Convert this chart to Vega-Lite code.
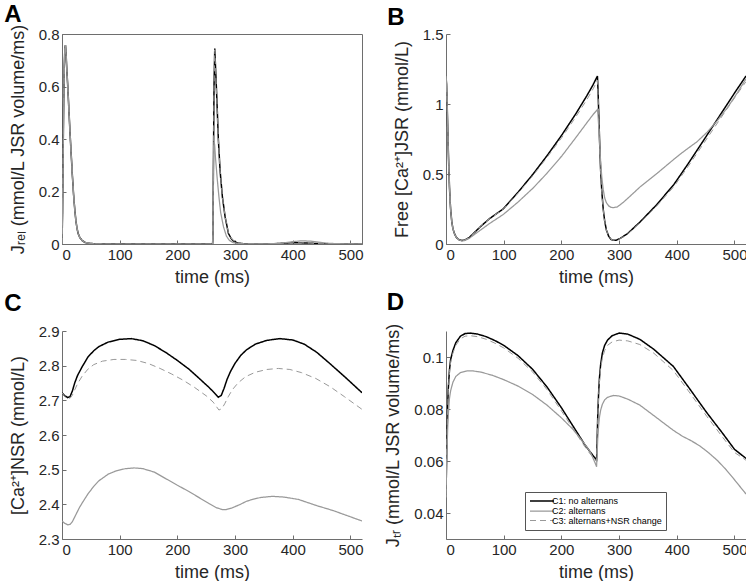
{
  "$schema": "https://vega.github.io/schema/vega-lite/v6.json",
  "padding": {"left": 3, "top": 2, "right": 0, "bottom": 0},
  "background": "white",
  "columns": 2,
  "spacing": {"row": 87, "column": 84},
  "bounds": "flush",
  "resolve": {"legend": {"color": "independent", "strokeDash": "independent", "strokeWidth": "independent"}},
  "config": {
    "font": "Liberation Sans",
    "view": {"stroke": null},
    "axis": {
      "grid": false,
      "domainColor": "#6e6e6e",
      "tickColor": "#6e6e6e",
      "labelColor": "#262626",
      "titleColor": "#262626",
      "labelFont": "Liberation Sans",
      "titleFont": "Liberation Sans",
      "labelFontSize": 15,
      "titleFontSize": 18,
      "titleFontWeight": "normal",
      "tickSize": -4,
      "labelPadding": 7
    },
    "axisX": {"titlePadding": 6},
    "axisY": {"titlePadding": 11},
    "title": {"fontSize": 24, "fontWeight": "bold", "font": "Liberation Sans", "color": "#000000", "anchor": "start", "frame": "bounds"},
    "legend": {"orient": "none", "legendX": 79, "legendY": 161, "title": null, "symbolType": "M-3,0H3", "symbolSize": 64, "symbolOffset": 8, "labelFontSize": 9, "labelFont": "Liberation Sans", "labelColor": "#000000", "strokeColor": "#555555", "fillColor": "white", "padding": 4, "rowPadding": -2, "labelOffset": 5}
  },
  "datasets": {
    "A": [
      {"t":0,"v":0,"s":"C1"},{"t":1,"v":0.12,"s":"C1"},{"t":2,"v":0.35,"s":"C1"},{"t":3,"v":0.55,"s":"C1"},{"t":4,"v":0.68,"s":"C1"},{"t":5,"v":0.745,"s":"C1"},{"t":6,"v":0.758,"s":"C1"},{"t":7,"v":0.73,"s":"C1"},{"t":8,"v":0.68,"s":"C1"},{"t":10,"v":0.6,"s":"C1"},{"t":12,"v":0.51,"s":"C1"},{"t":14,"v":0.42,"s":"C1"},{"t":16,"v":0.34,"s":"C1"},{"t":18,"v":0.26,"s":"C1"},{"t":20,"v":0.19,"s":"C1"},{"t":22,"v":0.135,"s":"C1"},{"t":24,"v":0.09,"s":"C1"},{"t":26,"v":0.06,"s":"C1"},{"t":28,"v":0.04,"s":"C1"},{"t":31,"v":0.024,"s":"C1"},{"t":35,"v":0.013,"s":"C1"},{"t":40,"v":0.006,"s":"C1"},{"t":46,"v":0.003,"s":"C1"},{"t":55,"v":0.001,"s":"C1"},{"t":70,"v":0,"s":"C1"},{"t":150,"v":0,"s":"C1"},{"t":261,"v":0,"s":"C1"},
      {"t":261.5,"v":0.02,"s":"C1"},{"t":262.5,"v":0.3,"s":"C1"},{"t":263.5,"v":0.6,"s":"C1"},{"t":264.8,"v":0.745,"s":"C1"},{"t":266,"v":0.68,"s":"C1"},{"t":268.3,"v":0.56,"s":"C1"},{"t":271,"v":0.4,"s":"C1"},{"t":274,"v":0.28,"s":"C1"},{"t":278,"v":0.18,"s":"C1"},{"t":282.7,"v":0.104,"s":"C1"},{"t":288.5,"v":0.04,"s":"C1"},{"t":293,"v":0.022,"s":"C1"},{"t":297,"v":0.012,"s":"C1"},{"t":303,"v":0.005,"s":"C1"},{"t":310,"v":0.002,"s":"C1"},{"t":320,"v":0.0005,"s":"C1"},{"t":350,"v":0,"s":"C1"},{"t":370,"v":0.001,"s":"C1"},{"t":390,"v":0.004,"s":"C1"},{"t":405,"v":0.005,"s":"C1"},{"t":420,"v":0.004,"s":"C1"},{"t":440,"v":0.002,"s":"C1"},{"t":460,"v":0.0005,"s":"C1"},{"t":480,"v":0,"s":"C1"},{"t":520,"v":0,"s":"C1"},
      {"t":0,"v":0,"s":"C3"},{"t":1,"v":0.12,"s":"C3"},{"t":2,"v":0.35,"s":"C3"},{"t":3,"v":0.55,"s":"C3"},{"t":4,"v":0.68,"s":"C3"},{"t":5,"v":0.745,"s":"C3"},{"t":6,"v":0.758,"s":"C3"},{"t":7,"v":0.73,"s":"C3"},{"t":8,"v":0.68,"s":"C3"},{"t":10,"v":0.6,"s":"C3"},{"t":12,"v":0.51,"s":"C3"},{"t":14,"v":0.42,"s":"C3"},{"t":16,"v":0.34,"s":"C3"},{"t":18,"v":0.26,"s":"C3"},{"t":20,"v":0.19,"s":"C3"},{"t":22,"v":0.135,"s":"C3"},{"t":24,"v":0.09,"s":"C3"},{"t":26,"v":0.06,"s":"C3"},{"t":28,"v":0.04,"s":"C3"},{"t":31,"v":0.024,"s":"C3"},{"t":35,"v":0.013,"s":"C3"},{"t":40,"v":0.006,"s":"C3"},{"t":46,"v":0.003,"s":"C3"},{"t":55,"v":0.001,"s":"C3"},{"t":70,"v":0,"s":"C3"},{"t":150,"v":0,"s":"C3"},{"t":261,"v":0,"s":"C3"},
      {"t":261.5,"v":0.02,"s":"C3"},{"t":262.5,"v":0.3,"s":"C3"},{"t":263.5,"v":0.59,"s":"C3"},{"t":264.8,"v":0.74,"s":"C3"},{"t":266,"v":0.675,"s":"C3"},{"t":268.3,"v":0.555,"s":"C3"},{"t":271,"v":0.4,"s":"C3"},{"t":274,"v":0.28,"s":"C3"},{"t":278,"v":0.18,"s":"C3"},{"t":282.7,"v":0.105,"s":"C3"},{"t":288.5,"v":0.042,"s":"C3"},{"t":293,"v":0.023,"s":"C3"},{"t":297,"v":0.013,"s":"C3"},{"t":303,"v":0.006,"s":"C3"},{"t":310,"v":0.002,"s":"C3"},{"t":320,"v":0.0005,"s":"C3"},{"t":350,"v":0,"s":"C3"},{"t":370,"v":0.001,"s":"C3"},{"t":390,"v":0.004,"s":"C3"},{"t":405,"v":0.005,"s":"C3"},{"t":420,"v":0.004,"s":"C3"},{"t":440,"v":0.002,"s":"C3"},{"t":460,"v":0.0005,"s":"C3"},{"t":480,"v":0,"s":"C3"},{"t":520,"v":0,"s":"C3"},
      {"t":0,"v":0,"s":"C2"},{"t":1,"v":0.12,"s":"C2"},{"t":2,"v":0.35,"s":"C2"},{"t":3,"v":0.55,"s":"C2"},{"t":4,"v":0.68,"s":"C2"},{"t":5,"v":0.745,"s":"C2"},{"t":6,"v":0.758,"s":"C2"},{"t":7,"v":0.73,"s":"C2"},{"t":8,"v":0.68,"s":"C2"},{"t":10,"v":0.6,"s":"C2"},{"t":12,"v":0.51,"s":"C2"},{"t":14,"v":0.42,"s":"C2"},{"t":16,"v":0.34,"s":"C2"},{"t":18,"v":0.26,"s":"C2"},{"t":20,"v":0.19,"s":"C2"},{"t":22,"v":0.135,"s":"C2"},{"t":24,"v":0.09,"s":"C2"},{"t":26,"v":0.06,"s":"C2"},{"t":28,"v":0.04,"s":"C2"},{"t":31,"v":0.024,"s":"C2"},{"t":35,"v":0.013,"s":"C2"},{"t":40,"v":0.006,"s":"C2"},{"t":46,"v":0.003,"s":"C2"},{"t":55,"v":0.001,"s":"C2"},{"t":70,"v":0,"s":"C2"},{"t":150,"v":0,"s":"C2"},{"t":261,"v":0,"s":"C2"},
      {"t":261.5,"v":0.03,"s":"C2"},{"t":262.2,"v":0.25,"s":"C2"},{"t":263.2,"v":0.39,"s":"C2"},{"t":264.5,"v":0.38,"s":"C2"},{"t":266,"v":0.33,"s":"C2"},{"t":269,"v":0.25,"s":"C2"},{"t":272,"v":0.18,"s":"C2"},{"t":275,"v":0.12,"s":"C2"},{"t":280,"v":0.065,"s":"C2"},{"t":285,"v":0.03,"s":"C2"},{"t":290,"v":0.014,"s":"C2"},{"t":297,"v":0.005,"s":"C2"},{"t":310,"v":0.001,"s":"C2"},{"t":350,"v":0,"s":"C2"},{"t":380,"v":0.003,"s":"C2"},{"t":400,"v":0.009,"s":"C2"},{"t":415,"v":0.012,"s":"C2"},{"t":430,"v":0.011,"s":"C2"},{"t":445,"v":0.007,"s":"C2"},{"t":460,"v":0.003,"s":"C2"},{"t":480,"v":0.001,"s":"C2"},{"t":520,"v":0,"s":"C2"}
    ],
    "B": [
      {"t":0,"v":1.2,"s":"C1"},{"t":1,"v":1.14,"s":"C1"},{"t":2,"v":1.0,"s":"C1"},{"t":3,"v":0.83,"s":"C1"},{"t":4,"v":0.67,"s":"C1"},{"t":5,"v":0.53,"s":"C1"},{"t":6,"v":0.41,"s":"C1"},{"t":7,"v":0.32,"s":"C1"},{"t":8,"v":0.25,"s":"C1"},{"t":10,"v":0.16,"s":"C1"},{"t":12,"v":0.11,"s":"C1"},{"t":15,"v":0.07,"s":"C1"},{"t":18,"v":0.047,"s":"C1"},{"t":22,"v":0.032,"s":"C1"},
      {"t":27,"v":0.025,"s":"C1"},{"t":32,"v":0.027,"s":"C1"},{"t":40,"v":0.045,"s":"C1"},{"t":50,"v":0.085,"s":"C1"},{"t":60,"v":0.125,"s":"C1"},{"t":75,"v":0.18,"s":"C1"},{"t":99,"v":0.25,"s":"C1"},{"t":125,"v":0.37,"s":"C1"},{"t":151,"v":0.5,"s":"C1"},{"t":175,"v":0.63,"s":"C1"},{"t":201,"v":0.78,"s":"C1"},{"t":225,"v":0.93,"s":"C1"},{"t":244,"v":1.058,"s":"C1"},{"t":255,"v":1.138,"s":"C1"},{"t":262.5,"v":1.2,"s":"C1"},{"t":263.5,"v":1.1,"s":"C1"},{"t":265,"v":0.9,"s":"C1"},{"t":266.5,"v":0.7,"s":"C1"},{"t":268,"v":0.53,"s":"C1"},{"t":270,"v":0.38,"s":"C1"},{"t":272.5,"v":0.25,"s":"C1"},{"t":275,"v":0.165,"s":"C1"},{"t":278,"v":0.1,"s":"C1"},{"t":282,"v":0.055,"s":"C1"},{"t":286,"v":0.033,"s":"C1"},{"t":290,"v":0.026,"s":"C1"},{"t":295,"v":0.027,"s":"C1"},{"t":302,"v":0.04,"s":"C1"},{"t":315,"v":0.075,"s":"C1"},{"t":337,"v":0.16,"s":"C1"},{"t":365,"v":0.28,"s":"C1"},{"t":395,"v":0.425,"s":"C1"},{"t":420,"v":0.575,"s":"C1"},{"t":448,"v":0.75,"s":"C1"},{"t":475,"v":0.92,"s":"C1"},{"t":502,"v":1.09,"s":"C1"},{"t":520,"v":1.2,"s":"C1"},
      {"t":0,"v":1.2,"s":"C3"},{"t":1,"v":1.14,"s":"C3"},{"t":2,"v":1.0,"s":"C3"},{"t":3,"v":0.83,"s":"C3"},{"t":4,"v":0.67,"s":"C3"},{"t":5,"v":0.53,"s":"C3"},{"t":6,"v":0.41,"s":"C3"},{"t":7,"v":0.32,"s":"C3"},{"t":8,"v":0.25,"s":"C3"},{"t":10,"v":0.16,"s":"C3"},{"t":12,"v":0.11,"s":"C3"},{"t":15,"v":0.07,"s":"C3"},{"t":18,"v":0.047,"s":"C3"},{"t":22,"v":0.032,"s":"C3"},
      {"t":27,"v":0.025,"s":"C3"},{"t":32,"v":0.027,"s":"C3"},{"t":40,"v":0.045,"s":"C3"},{"t":50,"v":0.085,"s":"C3"},{"t":60,"v":0.125,"s":"C3"},{"t":75,"v":0.18,"s":"C3"},{"t":99,"v":0.248,"s":"C3"},{"t":125,"v":0.364,"s":"C3"},{"t":151,"v":0.49,"s":"C3"},{"t":175,"v":0.618,"s":"C3"},{"t":201,"v":0.762,"s":"C3"},{"t":225,"v":0.908,"s":"C3"},{"t":244,"v":1.03,"s":"C3"},{"t":255,"v":1.108,"s":"C3"},{"t":262.5,"v":1.17,"s":"C3"},{"t":263.5,"v":1.08,"s":"C3"},{"t":265,"v":0.88,"s":"C3"},{"t":266.5,"v":0.69,"s":"C3"},{"t":268,"v":0.52,"s":"C3"},{"t":270,"v":0.37,"s":"C3"},{"t":272.5,"v":0.245,"s":"C3"},{"t":275,"v":0.162,"s":"C3"},{"t":278,"v":0.1,"s":"C3"},{"t":282,"v":0.055,"s":"C3"},{"t":286,"v":0.033,"s":"C3"},{"t":290,"v":0.026,"s":"C3"},{"t":295,"v":0.027,"s":"C3"},{"t":302,"v":0.039,"s":"C3"},{"t":315,"v":0.072,"s":"C3"},{"t":337,"v":0.155,"s":"C3"},{"t":365,"v":0.27,"s":"C3"},{"t":395,"v":0.41,"s":"C3"},{"t":420,"v":0.556,"s":"C3"},{"t":448,"v":0.727,"s":"C3"},{"t":475,"v":0.892,"s":"C3"},{"t":502,"v":1.055,"s":"C3"},{"t":520,"v":1.16,"s":"C3"},
      {"t":0,"v":1.2,"s":"C2"},{"t":1,"v":1.14,"s":"C2"},{"t":2,"v":1.0,"s":"C2"},{"t":3,"v":0.83,"s":"C2"},{"t":4,"v":0.67,"s":"C2"},{"t":5,"v":0.53,"s":"C2"},{"t":6,"v":0.41,"s":"C2"},{"t":7,"v":0.32,"s":"C2"},{"t":8,"v":0.25,"s":"C2"},{"t":10,"v":0.16,"s":"C2"},{"t":12,"v":0.11,"s":"C2"},{"t":15,"v":0.07,"s":"C2"},{"t":18,"v":0.047,"s":"C2"},{"t":22,"v":0.032,"s":"C2"},
      {"t":27,"v":0.022,"s":"C2"},{"t":32,"v":0.024,"s":"C2"},{"t":40,"v":0.04,"s":"C2"},{"t":50,"v":0.07,"s":"C2"},{"t":60,"v":0.1,"s":"C2"},{"t":75,"v":0.145,"s":"C2"},{"t":99,"v":0.21,"s":"C2"},{"t":125,"v":0.3,"s":"C2"},{"t":151,"v":0.4,"s":"C2"},{"t":175,"v":0.505,"s":"C2"},{"t":201,"v":0.63,"s":"C2"},{"t":225,"v":0.76,"s":"C2"},{"t":244,"v":0.865,"s":"C2"},{"t":255,"v":0.925,"s":"C2"},{"t":262.5,"v":0.96,"s":"C2"},{"t":263.5,"v":0.92,"s":"C2"},{"t":265,"v":0.82,"s":"C2"},{"t":266.5,"v":0.7,"s":"C2"},{"t":268,"v":0.59,"s":"C2"},{"t":270,"v":0.48,"s":"C2"},{"t":272.5,"v":0.39,"s":"C2"},{"t":275,"v":0.33,"s":"C2"},{"t":278,"v":0.295,"s":"C2"},{"t":282,"v":0.272,"s":"C2"},{"t":286,"v":0.262,"s":"C2"},{"t":290,"v":0.26,"s":"C2"},{"t":297,"v":0.265,"s":"C2"},{"t":308,"v":0.3,"s":"C2"},{"t":320,"v":0.345,"s":"C2"},{"t":337,"v":0.41,"s":"C2"},{"t":366,"v":0.505,"s":"C2"},{"t":395,"v":0.605,"s":"C2"},{"t":407,"v":0.645,"s":"C2"},{"t":419,"v":0.682,"s":"C2"},{"t":435,"v":0.73,"s":"C2"},{"t":453,"v":0.8,"s":"C2"},{"t":470,"v":0.88,"s":"C2"},{"t":488,"v":0.975,"s":"C2"},{"t":505,"v":1.08,"s":"C2"},{"t":520,"v":1.18,"s":"C2"}
    ],
    "C": [
      {"t":0,"v":2.722,"s":"C1"},{"t":5,"v":2.713,"s":"C1"},{"t":10,"v":2.708,"s":"C1"},{"t":14,"v":2.711,"s":"C1"},{"t":18,"v":2.727,"s":"C1"},{"t":22,"v":2.75,"s":"C1"},{"t":27,"v":2.772,"s":"C1"},{"t":35,"v":2.797,"s":"C1"},{"t":45,"v":2.825,"s":"C1"},{"t":55,"v":2.843,"s":"C1"},{"t":64,"v":2.855,"s":"C1"},{"t":80,"v":2.868,"s":"C1"},{"t":100,"v":2.876,"s":"C1"},{"t":120,"v":2.878,"s":"C1"},{"t":140,"v":2.872,"s":"C1"},{"t":160,"v":2.858,"s":"C1"},{"t":180,"v":2.838,"s":"C1"},{"t":200,"v":2.815,"s":"C1"},{"t":220,"v":2.79,"s":"C1"},{"t":238,"v":2.763,"s":"C1"},{"t":255,"v":2.737,"s":"C1"},{"t":265,"v":2.72,"s":"C1"},{"t":271,"v":2.709,"s":"C1"},{"t":276,"v":2.714,"s":"C1"},{"t":281,"v":2.735,"s":"C1"},{"t":286,"v":2.76,"s":"C1"},{"t":292,"v":2.783,"s":"C1"},{"t":300,"v":2.807,"s":"C1"},{"t":310,"v":2.83,"s":"C1"},{"t":320,"v":2.846,"s":"C1"},{"t":335,"v":2.862,"s":"C1"},{"t":355,"v":2.873,"s":"C1"},{"t":378,"v":2.878,"s":"C1"},{"t":400,"v":2.874,"s":"C1"},{"t":420,"v":2.862,"s":"C1"},{"t":442,"v":2.838,"s":"C1"},{"t":465,"v":2.805,"s":"C1"},{"t":490,"v":2.768,"s":"C1"},{"t":520,"v":2.722,"s":"C1"},
      {"t":0,"v":2.722,"s":"C3"},{"t":5,"v":2.71,"s":"C3"},{"t":10,"v":2.705,"s":"C3"},{"t":14,"v":2.706,"s":"C3"},{"t":18,"v":2.715,"s":"C3"},{"t":22,"v":2.73,"s":"C3"},{"t":27,"v":2.748,"s":"C3"},{"t":35,"v":2.77,"s":"C3"},{"t":45,"v":2.79,"s":"C3"},{"t":55,"v":2.803,"s":"C3"},{"t":70,"v":2.813,"s":"C3"},{"t":90,"v":2.818,"s":"C3"},{"t":110,"v":2.818,"s":"C3"},{"t":130,"v":2.815,"s":"C3"},{"t":150,"v":2.806,"s":"C3"},{"t":170,"v":2.792,"s":"C3"},{"t":190,"v":2.776,"s":"C3"},{"t":210,"v":2.758,"s":"C3"},{"t":230,"v":2.737,"s":"C3"},{"t":250,"v":2.713,"s":"C3"},{"t":262,"v":2.695,"s":"C3"},{"t":272,"v":2.672,"s":"C3"},{"t":277,"v":2.676,"s":"C3"},{"t":282,"v":2.69,"s":"C3"},{"t":288,"v":2.71,"s":"C3"},{"t":295,"v":2.73,"s":"C3"},{"t":305,"v":2.75,"s":"C3"},{"t":318,"v":2.768,"s":"C3"},{"t":335,"v":2.781,"s":"C3"},{"t":355,"v":2.789,"s":"C3"},{"t":375,"v":2.792,"s":"C3"},{"t":395,"v":2.789,"s":"C3"},{"t":415,"v":2.78,"s":"C3"},{"t":440,"v":2.763,"s":"C3"},{"t":465,"v":2.739,"s":"C3"},{"t":490,"v":2.71,"s":"C3"},{"t":520,"v":2.674,"s":"C3"},
      {"t":0,"v":2.352,"s":"C2"},{"t":5,"v":2.345,"s":"C2"},{"t":10,"v":2.341,"s":"C2"},{"t":14,"v":2.342,"s":"C2"},{"t":18,"v":2.35,"s":"C2"},{"t":24,"v":2.37,"s":"C2"},{"t":30,"v":2.39,"s":"C2"},{"t":35,"v":2.404,"s":"C2"},{"t":45,"v":2.43,"s":"C2"},{"t":55,"v":2.452,"s":"C2"},{"t":64,"v":2.468,"s":"C2"},{"t":80,"v":2.487,"s":"C2"},{"t":93,"v":2.496,"s":"C2"},{"t":110,"v":2.503,"s":"C2"},{"t":125,"v":2.505,"s":"C2"},{"t":140,"v":2.503,"s":"C2"},{"t":160,"v":2.493,"s":"C2"},{"t":180,"v":2.474,"s":"C2"},{"t":200,"v":2.455,"s":"C2"},{"t":220,"v":2.437,"s":"C2"},{"t":239,"v":2.418,"s":"C2"},{"t":255,"v":2.402,"s":"C2"},{"t":268,"v":2.39,"s":"C2"},{"t":278,"v":2.385,"s":"C2"},{"t":285,"v":2.385,"s":"C2"},{"t":295,"v":2.39,"s":"C2"},{"t":308,"v":2.399,"s":"C2"},{"t":320,"v":2.409,"s":"C2"},{"t":332,"v":2.415,"s":"C2"},{"t":345,"v":2.42,"s":"C2"},{"t":365,"v":2.423,"s":"C2"},{"t":385,"v":2.421,"s":"C2"},{"t":410,"v":2.414,"s":"C2"},{"t":442,"v":2.396,"s":"C2"},{"t":470,"v":2.382,"s":"C2"},{"t":495,"v":2.367,"s":"C2"},{"t":520,"v":2.352,"s":"C2"}
    ],
    "D": [
      {"t":0,"v":0.047,"s":"C1"},{"t":1,"v":0.06,"s":"C1"},{"t":2,"v":0.072,"s":"C1"},{"t":3,"v":0.082,"s":"C1"},{"t":4,"v":0.088,"s":"C1"},{"t":6,"v":0.095,"s":"C1"},{"t":8,"v":0.099,"s":"C1"},{"t":12,"v":0.1025,"s":"C1"},{"t":17,"v":0.1055,"s":"C1"},{"t":25,"v":0.108,"s":"C1"},{"t":33,"v":0.109,"s":"C1"},{"t":42,"v":0.1092,"s":"C1"},{"t":55,"v":0.1088,"s":"C1"},{"t":70,"v":0.1078,"s":"C1"},{"t":85,"v":0.1063,"s":"C1"},{"t":100,"v":0.1045,"s":"C1"},{"t":125,"v":0.1005,"s":"C1"},{"t":150,"v":0.0953,"s":"C1"},{"t":175,"v":0.0885,"s":"C1"},{"t":200,"v":0.0805,"s":"C1"},{"t":220,"v":0.0735,"s":"C1"},{"t":240,"v":0.0665,"s":"C1"},{"t":250,"v":0.0635,"s":"C1"},{"t":258,"v":0.0612,"s":"C1"},{"t":261,"v":0.0605,"s":"C1"},{"t":262,"v":0.068,"s":"C1"},{"t":263,"v":0.077,"s":"C1"},{"t":264.5,"v":0.086,"s":"C1"},{"t":266,"v":0.092,"s":"C1"},{"t":268,"v":0.097,"s":"C1"},{"t":271,"v":0.1015,"s":"C1"},{"t":275,"v":0.1045,"s":"C1"},{"t":280,"v":0.1065,"s":"C1"},{"t":288,"v":0.1082,"s":"C1"},{"t":300,"v":0.1092,"s":"C1"},{"t":315,"v":0.1088,"s":"C1"},{"t":336,"v":0.1068,"s":"C1"},{"t":360,"v":0.103,"s":"C1"},{"t":394,"v":0.0964,"s":"C1"},{"t":420,"v":0.0885,"s":"C1"},{"t":452,"v":0.0786,"s":"C1"},{"t":480,"v":0.0705,"s":"C1"},{"t":500,"v":0.0645,"s":"C1"},{"t":520,"v":0.061,"s":"C1"},
      {"t":0,"v":0.047,"s":"C3"},{"t":1,"v":0.06,"s":"C3"},{"t":2,"v":0.072,"s":"C3"},{"t":3,"v":0.081,"s":"C3"},{"t":4,"v":0.087,"s":"C3"},{"t":6,"v":0.094,"s":"C3"},{"t":8,"v":0.098,"s":"C3"},{"t":12,"v":0.1015,"s":"C3"},{"t":17,"v":0.1045,"s":"C3"},{"t":25,"v":0.107,"s":"C3"},{"t":33,"v":0.108,"s":"C3"},{"t":42,"v":0.1082,"s":"C3"},{"t":55,"v":0.1078,"s":"C3"},{"t":70,"v":0.1068,"s":"C3"},{"t":85,"v":0.1053,"s":"C3"},{"t":100,"v":0.1035,"s":"C3"},{"t":125,"v":0.0995,"s":"C3"},{"t":150,"v":0.0943,"s":"C3"},{"t":175,"v":0.0875,"s":"C3"},{"t":200,"v":0.0793,"s":"C3"},{"t":220,"v":0.0725,"s":"C3"},{"t":240,"v":0.0657,"s":"C3"},{"t":250,"v":0.0627,"s":"C3"},{"t":258,"v":0.0605,"s":"C3"},{"t":261,"v":0.0598,"s":"C3"},{"t":262,"v":0.067,"s":"C3"},{"t":263,"v":0.076,"s":"C3"},{"t":264.5,"v":0.085,"s":"C3"},{"t":266,"v":0.0905,"s":"C3"},{"t":268,"v":0.0955,"s":"C3"},{"t":271,"v":0.0995,"s":"C3"},{"t":275,"v":0.1025,"s":"C3"},{"t":280,"v":0.1045,"s":"C3"},{"t":288,"v":0.1058,"s":"C3"},{"t":300,"v":0.1065,"s":"C3"},{"t":315,"v":0.1062,"s":"C3"},{"t":336,"v":0.1048,"s":"C3"},{"t":360,"v":0.1015,"s":"C3"},{"t":394,"v":0.0948,"s":"C3"},{"t":420,"v":0.087,"s":"C3"},{"t":452,"v":0.0772,"s":"C3"},{"t":480,"v":0.069,"s":"C3"},{"t":500,"v":0.0633,"s":"C3"},{"t":520,"v":0.0603,"s":"C3"},
      {"t":0,"v":0.046,"s":"C2"},{"t":1,"v":0.057,"s":"C2"},{"t":2,"v":0.066,"s":"C2"},{"t":3,"v":0.073,"s":"C2"},{"t":4,"v":0.078,"s":"C2"},{"t":6,"v":0.084,"s":"C2"},{"t":8,"v":0.087,"s":"C2"},{"t":12,"v":0.0903,"s":"C2"},{"t":17,"v":0.0925,"s":"C2"},{"t":25,"v":0.094,"s":"C2"},{"t":35,"v":0.0946,"s":"C2"},{"t":45,"v":0.0947,"s":"C2"},{"t":60,"v":0.0942,"s":"C2"},{"t":80,"v":0.093,"s":"C2"},{"t":100,"v":0.0913,"s":"C2"},{"t":125,"v":0.0888,"s":"C2"},{"t":150,"v":0.0856,"s":"C2"},{"t":175,"v":0.0815,"s":"C2"},{"t":200,"v":0.0766,"s":"C2"},{"t":220,"v":0.0722,"s":"C2"},{"t":240,"v":0.0667,"s":"C2"},{"t":250,"v":0.0635,"s":"C2"},{"t":258,"v":0.0595,"s":"C2"},{"t":261,"v":0.0578,"s":"C2"},{"t":262,"v":0.063,"s":"C2"},{"t":263,"v":0.0685,"s":"C2"},{"t":264.5,"v":0.0735,"s":"C2"},{"t":266,"v":0.0768,"s":"C2"},{"t":268,"v":0.0795,"s":"C2"},{"t":271,"v":0.0818,"s":"C2"},{"t":275,"v":0.0835,"s":"C2"},{"t":280,"v":0.0845,"s":"C2"},{"t":290,"v":0.0852,"s":"C2"},{"t":300,"v":0.085,"s":"C2"},{"t":315,"v":0.0838,"s":"C2"},{"t":336,"v":0.0815,"s":"C2"},{"t":360,"v":0.0775,"s":"C2"},{"t":394,"v":0.0718,"s":"C2"},{"t":410,"v":0.0695,"s":"C2"},{"t":425,"v":0.0678,"s":"C2"},{"t":440,"v":0.0658,"s":"C2"},{"t":455,"v":0.0632,"s":"C2"},{"t":470,"v":0.0603,"s":"C2"},{"t":485,"v":0.0568,"s":"C2"},{"t":500,"v":0.0528,"s":"C2"},{"t":520,"v":0.0473,"s":"C2"}
    ]
  },
  "concat": [
    {
      "title": {"text": "A", "offset": -3, "dx": -5},
      "data": {"name": "A"},
      "width": 300, "height": 210,
      "view": {"stroke": "#6e6e6e", "strokeWidth": 1},
      "mark": {"type": "line", "clip": true},
      "encoding": {
        "x": {"field": "t", "type": "quantitative", "scale": {"domain": [0, 520], "nice": false}, "axis": {"values": [0, 100, 200, 300, 400, 500], "title": "time (ms)"}},
        "y": {"field": "v", "type": "quantitative", "scale": {"domain": [0, 0.8], "nice": false}, "axis": {"values": [0, 0.2, 0.4, 0.6, 0.8], "format": "~g", "title": "Jᵣₑₗ (mmol/L JSR volume/ms)"}},
        "color": {"field": "s", "type": "nominal", "scale": {"domain": ["C1", "C2", "C3"], "range": ["#000000", "#999999", "#999999"]}, "legend": null},
        "strokeDash": {"field": "s", "type": "nominal", "scale": {"domain": ["C1", "C2", "C3"], "range": [[1, 0], [1, 0], [6, 4]]}, "legend": null},
        "strokeWidth": {"field": "s", "type": "nominal", "scale": {"domain": ["C1", "C2", "C3"], "range": [1.5, 1, 1]}, "legend": null}
      }
    },
    {
      "title": {"text": "B", "offset": -3, "dx": -6},
      "data": {"name": "B"},
      "width": 300, "height": 210,
      "mark": {"type": "line", "clip": true},
      "encoding": {
        "x": {"field": "t", "type": "quantitative", "scale": {"domain": [0, 520], "nice": false}, "axis": {"values": [0, 100, 200, 300, 400, 500], "title": "time (ms)"}},
        "y": {"field": "v", "type": "quantitative", "scale": {"domain": [0, 1.5], "nice": false}, "axis": {"values": [0, 0.5, 1, 1.5], "format": "~g", "title": "Free [Ca²⁺]JSR (mmol/L)"}},
        "color": {"field": "s", "type": "nominal", "scale": {"domain": ["C1", "C2", "C3"], "range": ["#000000", "#999999", "#999999"]}, "legend": null},
        "strokeDash": {"field": "s", "type": "nominal", "scale": {"domain": ["C1", "C2", "C3"], "range": [[1, 0], [1, 0], [6, 4]]}, "legend": null},
        "strokeWidth": {"field": "s", "type": "nominal", "scale": {"domain": ["C1", "C2", "C3"], "range": [1.5, 1, 1]}, "legend": null}
      }
    },
    {
      "title": {"text": "C", "offset": 8, "dx": -5},
      "data": {"name": "C"},
      "width": 300, "height": 208,
      "mark": {"type": "line", "clip": true},
      "encoding": {
        "x": {"field": "t", "type": "quantitative", "scale": {"domain": [0, 520], "nice": false}, "axis": {"values": [0, 100, 200, 300, 400, 500], "title": "time (ms)"}},
        "y": {"field": "v", "type": "quantitative", "scale": {"domain": [2.3, 2.9], "nice": false, "zero": false}, "axis": {"values": [2.3, 2.4, 2.5, 2.6, 2.7, 2.8, 2.9], "format": "~g", "title": "[Ca²⁺]NSR (mmol/L)"}},
        "color": {"field": "s", "type": "nominal", "scale": {"domain": ["C1", "C2", "C3"], "range": ["#000000", "#999999", "#999999"]}, "legend": null},
        "strokeDash": {"field": "s", "type": "nominal", "scale": {"domain": ["C1", "C2", "C3"], "range": [[1, 0], [1, 0], [6, 4]]}, "legend": null},
        "strokeWidth": {"field": "s", "type": "nominal", "scale": {"domain": ["C1", "C2", "C3"], "range": [1.5, 1, 1]}, "legend": null}
      }
    },
    {
      "title": {"text": "D", "offset": 8, "dx": 2},
      "data": {"name": "D"},
      "width": 300, "height": 208,
      "mark": {"type": "line", "clip": true},
      "encoding": {
        "x": {"field": "t", "type": "quantitative", "scale": {"domain": [0, 520], "nice": false}, "axis": {"values": [0, 100, 200, 300, 400, 500], "title": "time (ms)"}},
        "y": {"field": "v", "type": "quantitative", "scale": {"domain": [0.03, 0.11], "nice": false, "zero": false}, "axis": {"values": [0.04, 0.06, 0.08, 0.1], "format": "~g", "title": "Jₜᵣ (mmol/L JSR volume/ms)"}},
        "color": {"field": "s", "type": "nominal", "scale": {"domain": ["C1", "C2", "C3"], "range": ["#000000", "#999999", "#999999"]}, "legend": {"labelExpr": "{'C1': 'C1: no alternans', 'C2': 'C2: alternans', 'C3': 'C3: alternans+NSR change'}[datum.label]"}},
        "strokeDash": {"field": "s", "type": "nominal", "scale": {"domain": ["C1", "C2", "C3"], "range": [[1, 0], [1, 0], [6, 4]]}, "legend": {"labelExpr": "{'C1': 'C1: no alternans', 'C2': 'C2: alternans', 'C3': 'C3: alternans+NSR change'}[datum.label]"}},
        "strokeWidth": {"field": "s", "type": "nominal", "scale": {"domain": ["C1", "C2", "C3"], "range": [1.5, 1, 1]}, "legend": {"labelExpr": "{'C1': 'C1: no alternans', 'C2': 'C2: alternans', 'C3': 'C3: alternans+NSR change'}[datum.label]"}}
      }
    }
  ]
}
